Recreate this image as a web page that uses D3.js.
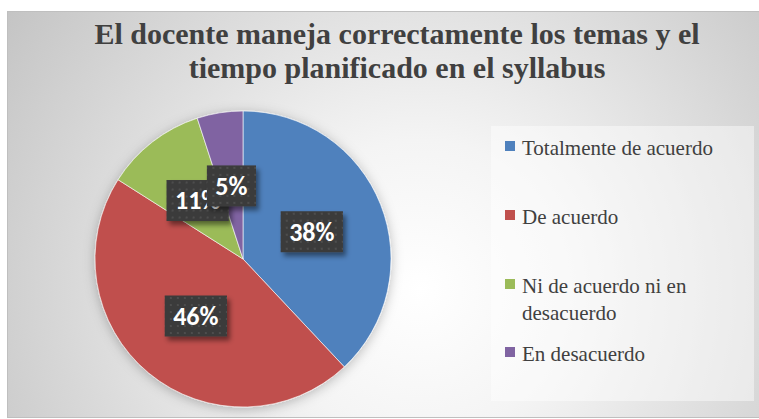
<!DOCTYPE html>
<html>
<head>
<meta charset="utf-8">
<script src="https://cdn.jsdelivr.net/npm/d3@7"></script>
</head>
<body style="margin:0">
<script>
// data
var categories = ["Totalmente de acuerdo", "De acuerdo", "Ni de acuerdo ni en desacuerdo", "En desacuerdo"];
var values = [38, 46, 11, 5];
var pctLabels = ["38%", "46%", "11%", "5%"];
var legendLines = [["Totalmente de acuerdo"], ["De acuerdo"], ["Ni de acuerdo ni en", "desacuerdo"], ["En desacuerdo"]];
var titleLines = ["El docente maneja correctamente los temas y el", "tiempo planificado en el syllabus"];
var colors = ["#4F81BD", "#C0504D", "#9BBB59", "#8064A2"];

var svgWidth = 759;
var svgHeight = 419;
var serif = "'Liberation Serif', 'Times New Roman', Tinos";

var svg = d3.select("body")
  .append("svg")
  .attr("width", svgWidth)
  .attr("height", svgHeight)
  .style("display", "block");

var defs = svg.append("defs");

// background gradient
var bg = defs.append("radialGradient")
  .attr("id", "bgGrad")
  .attr("gradientUnits", "userSpaceOnUse")
  .attr("cx", 420).attr("cy", 290).attr("r", 500);
bg.append("stop").attr("offset", "0").attr("stop-color", "#ffffff");
bg.append("stop").attr("offset", "0.3").attr("stop-color", "#f4f4f4");
bg.append("stop").attr("offset", "1").attr("stop-color", "#c4c4c4");

// pie shadow
var pieShadow = defs.append("filter").attr("id", "pieShadow")
  .attr("x", "-20%").attr("y", "-20%").attr("width", "140%").attr("height", "140%");
pieShadow.append("feDropShadow")
  .attr("dx", 0).attr("dy", 2).attr("stdDeviation", 6)
  .attr("flood-color", "#000").attr("flood-opacity", 0.25);

// label box shadow
var boxShadow = defs.append("filter").attr("id", "boxShadow")
  .attr("x", "-30%").attr("y", "-30%").attr("width", "160%").attr("height", "170%");
boxShadow.append("feDropShadow")
  .attr("dx", 3).attr("dy", 4).attr("stdDeviation", 2.5)
  .attr("flood-color", "#000").attr("flood-opacity", 0.45);

// dotted fill for the data labels
var dots = defs.append("pattern")
  .attr("id", "dots")
  .attr("patternUnits", "userSpaceOnUse")
  .attr("width", 7).attr("height", 7);
dots.append("rect").attr("width", 7).attr("height", 7).attr("fill", "#3b3b3b");
dots.append("rect").attr("x", 2).attr("y", 2).attr("width", 2).attr("height", 2).attr("fill", "#4e4e4e");

// chart area
svg.append("rect")
  .attr("x", 7.5).attr("y", 11.5)
  .attr("width", svgWidth - 7).attr("height", 406)
  .attr("fill", "url(#bgGrad)")
  .attr("stroke", "#bfbfbf")
  .attr("stroke-width", 1);

// title
titleLines.forEach(function(line, i) {
  svg.append("text")
    .attr("x", 397)
    .attr("y", 44 + i * 34)
    .attr("text-anchor", "middle")
    .attr("font-family", serif)
    .style("font-family", serif, "important")
    .style("font-weight", "bold")
    .style("font-size", "30px")
    .attr("fill", "#404040")
    .text(line);
});

// pie
var cx = 243, cy = 259, radius = 148;

var pie = d3.pie().sort(null).value(d => d);
var arcs = pie(values);

var arc = d3.arc().innerRadius(0).outerRadius(radius);
var labelArc = d3.arc().innerRadius(74).outerRadius(74);

var pieGroup = svg.append("g")
  .attr("transform", `translate(${cx}, ${cy})`);

pieGroup.append("g")
  .attr("filter", "url(#pieShadow)")
  .selectAll("path")
  .data(arcs)
  .enter()
  .append("path")
  .attr("d", arc)
  .attr("fill", (d, i) => colors[i])
  .attr("stroke", "#ffffff")
  .attr("stroke-width", 0.6);

// data labels
var labelGroups = pieGroup.selectAll(".lbl")
  .data(arcs)
  .enter()
  .append("g")
  .attr("class", "lbl")
  .attr("transform", d => `translate(${labelArc.centroid(d)})`);

labelGroups.each(function(d, i) {
  var g = d3.select(this);
  var rect = g.append("rect");
  var txt = g.append("text")
    .attr("text-anchor", "middle")
    .attr("dy", "0.34em")
    .style("font-family", "Carlito, 'Open Sans'", "important")
    .style("font-weight", "bold")
    .style("font-size", "26px")
    .attr("fill", "#ffffff")
    .text(pctLabels[i]);
  var w = txt.node().getComputedTextLength() + 17;
  rect.attr("x", -w / 2).attr("y", -20.5)
    .attr("width", w).attr("height", 41)
    .attr("fill", "url(#dots)")
    .attr("filter", "url(#boxShadow)");
});

// legend
svg.append("rect")
  .attr("x", 491).attr("y", 126)
  .attr("width", 263).attr("height", 275)
  .attr("fill", "#ffffff")
  .attr("opacity", 0.45);

var legendY = [155, 224, 293, 361];

categories.forEach(function(cat, i) {
  svg.append("rect")
    .attr("x", 505).attr("y", legendY[i] - 14)
    .attr("width", 10).attr("height", 10)
    .attr("fill", colors[i]);
  legendLines[i].forEach(function(line, j) {
    svg.append("text")
      .attr("x", 522)
      .attr("y", legendY[i] + j * 27)
      .attr("font-family", serif)
      .style("font-family", serif, "important")
      .style("font-size", "21px")
      .attr("fill", "#404040")
      .text(line);
  });
});
</script>
</body>
</html>
